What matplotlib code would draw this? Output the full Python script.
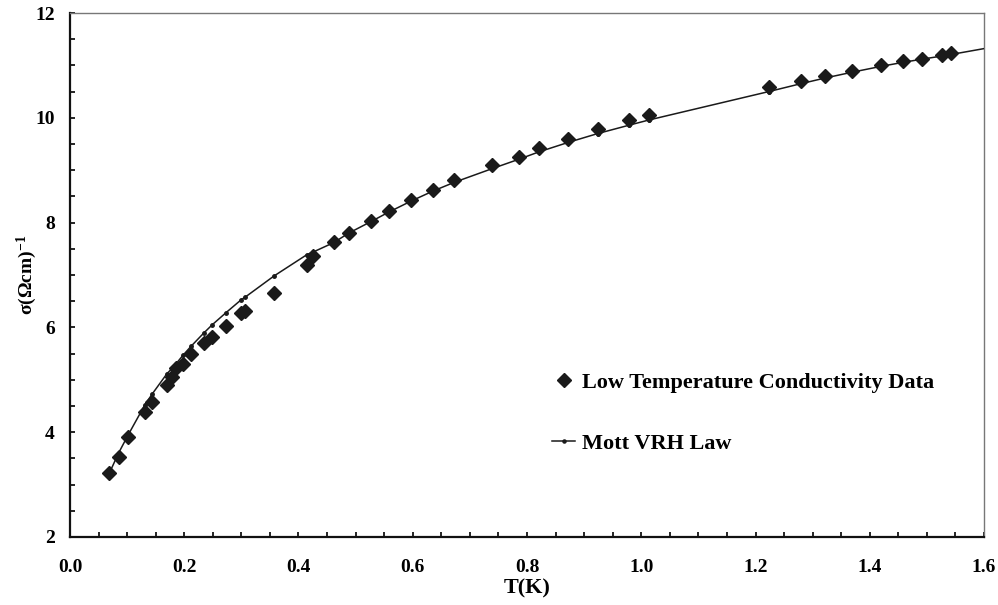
import numpy as np
import matplotlib
matplotlib.use("Agg")
import matplotlib.pyplot as plt
from matplotlib.ticker import MultipleLocator

plt.rcParams['font.family'] = ['Liberation Serif', 'DejaVu Serif']
plt.rcParams['font.weight'] = 'bold'
plt.rcParams['axes.labelweight'] = 'bold'
plt.rcParams['mathtext.fontset'] = 'custom'
plt.rcParams['mathtext.rm'] = 'Liberation Serif:bold'
plt.rcParams['mathtext.bf'] = 'Liberation Serif:bold'
plt.rcParams['mathtext.default'] = 'bf'

# measured data (T in K, sigma in (Ohm cm)^-1)
T_data = [0.069, 0.085, 0.101, 0.131, 0.144, 0.170, 0.178, 0.186, 0.198, 0.212,
          0.234, 0.249, 0.273, 0.300, 0.307, 0.357, 0.415, 0.426, 0.462, 0.488,
          0.527, 0.558, 0.597, 0.635, 0.673, 0.739, 0.786, 0.821, 0.872, 0.924,
          0.979, 1.014, 1.223, 1.279, 1.322, 1.369, 1.419, 1.459, 1.492, 1.527,
          1.543]
sigma_data = [3.23, 3.52, 3.91, 4.38, 4.57, 4.91, 5.05, 5.23, 5.30, 5.50,
              5.70, 5.82, 6.03, 6.28, 6.32, 6.66, 7.20, 7.37, 7.63, 7.81,
              8.03, 8.22, 8.44, 8.63, 8.81, 9.10, 9.26, 9.42, 9.60, 9.78,
              9.95, 10.06, 10.58, 10.70, 10.80, 10.90, 11.00, 11.08, 11.13, 11.20,
              11.24]

# Mott VRH fit curve
T_fit = T_data + [1.61]
sigma_fit = [3.22, 3.60, 3.93, 4.52, 4.73, 5.12, 5.21, 5.31, 5.47, 5.64,
             5.89, 6.05, 6.28, 6.53, 6.58, 6.98, 7.39, 7.44, 7.62, 7.80,
             8.02, 8.20, 8.41, 8.60, 8.77, 9.03, 9.21, 9.35, 9.53, 9.70,
             9.86, 9.96, 10.50, 10.65, 10.76, 10.87, 10.98, 11.06, 11.12, 11.18,
             11.21, 11.34]

fig = plt.figure(figsize=(9.98, 6.05), dpi=100)
ax = fig.add_axes([0.0701, 0.1124, 0.9159, 0.8661])

ax.plot(T_data, sigma_data, linestyle='none', marker='D', ms=7.5, color='#1a1a1a',
        label='Low Temperature Conductivity Data', zorder=3)
ax.plot(T_fit, sigma_fit, '-', color='#1a1a1a', lw=1.1, marker='o', ms=2.5,
        label='Mott VRH Law', zorder=4)

ax.set_xlim(0, 1.6)
ax.set_ylim(2, 12)
ax.xaxis.set_major_locator(MultipleLocator(0.2))
ax.xaxis.set_minor_locator(MultipleLocator(0.05))
ax.yaxis.set_major_locator(MultipleLocator(2))
ax.yaxis.set_minor_locator(MultipleLocator(0.5))
ax.set_xticklabels([f'{v:.1f}' for v in ax.get_xticks()])
ax.tick_params(which='both', direction='in', length=3.5, width=1.2,
               top=False, right=False, labelsize=14)
ax.tick_params(axis='x', pad=16)
ax.tick_params(axis='y', pad=11)

for s in ['left', 'bottom']:
    ax.spines[s].set_linewidth(1.6)
    ax.spines[s].set_color('#111111')
for s in ['top', 'right']:
    ax.spines[s].set_linewidth(1.0)
    ax.spines[s].set_color('#777777')

ax.set_xlabel('T(K)', fontsize=16)
ax.xaxis.set_label_coords(0.5, -0.08)
ax.set_ylabel(r'σ(Ωcm)$^{-1}$', fontsize=14)
ax.yaxis.set_label_coords(-0.0335, 0.5)

leg = ax.legend(loc='center left', bbox_to_anchor=(0.5175, 0.2366), frameon=False,
                fontsize=16, labelspacing=1.8, handlelength=1.05, handletextpad=0.3,
                borderaxespad=0, markerscale=0.9)

fig.savefig('out.png', dpi=100)
